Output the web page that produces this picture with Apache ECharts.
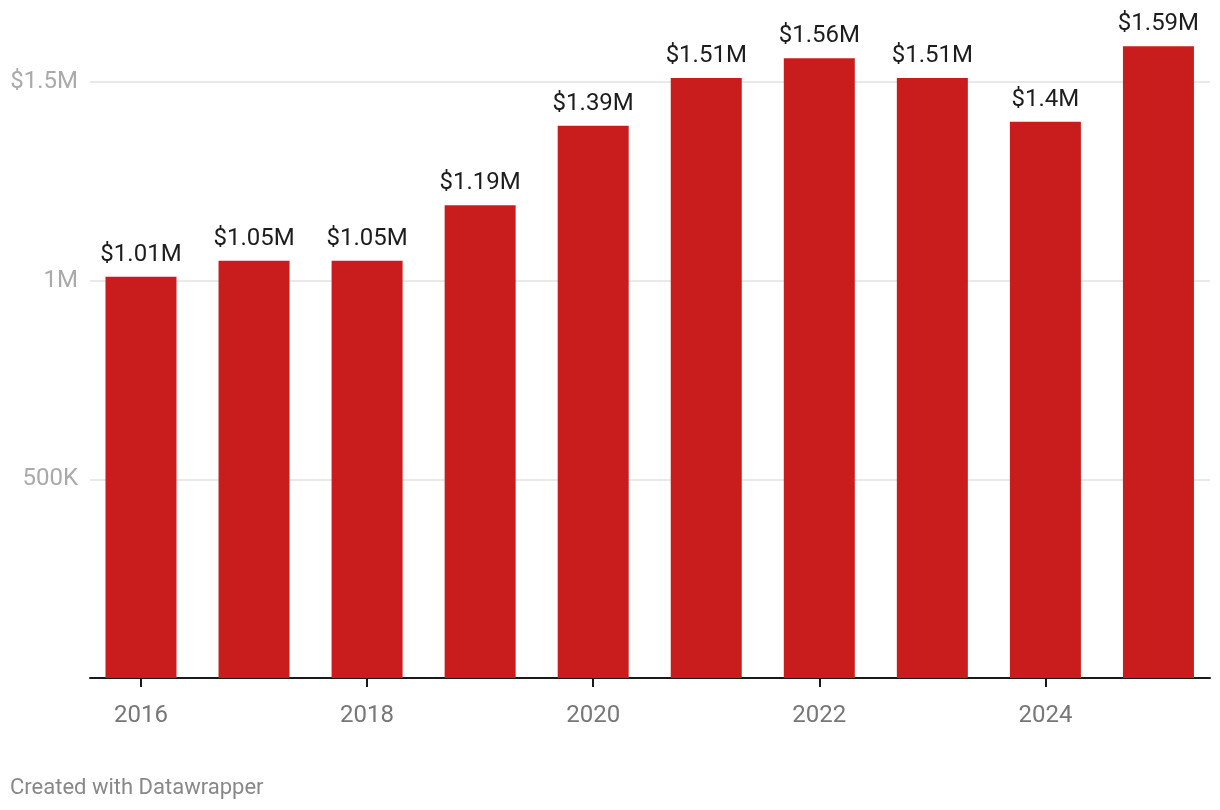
<!DOCTYPE html>
<html>
<head>
<meta charset="utf-8">
<script src="https://cdn.jsdelivr.net/npm/echarts@6/dist/echarts.min.js"></script>
<style>
html,body{margin:0;padding:0;background:#fff;}
#chart{width:1220px;height:810px;}
</style>
</head>
<body>
<div id="chart"></div>
<script>
const years = [2016, 2017, 2018, 2019, 2020, 2021, 2022, 2023, 2024, 2025];
const values = [1010000, 1050000, 1050000, 1190000, 1390000, 1510000, 1560000, 1510000, 1400000, 1590000];
const xTickYears = [2016, 2018, 2020, 2022, 2024];
const yTicks = [0, 500000, 1000000, 1500000];
const yTickLabels = ['', '500K', '1M', '$1.5M'];

function fmtMoney(v) {
  return '$' + parseFloat((v / 1e6).toFixed(2)) + 'M';
}

const chart = echarts.init(document.getElementById('chart'), null, {renderer: 'canvas'});
chart.setOption({
  animation: false,
  backgroundColor: '#ffffff',
  textStyle: {fontFamily: 'Roboto'},
  grid: {left: 90, right: 10, top: 82, bottom: 132},
  xAxis: {
    type: 'value',
    min: 2015.549,
    max: 2025.456,
    splitLine: {show: false},
    axisLine: {show: true, onZero: false, lineStyle: {color: '#1a1a1a', width: 2}},
    axisTick: {show: true, customValues: xTickYears, length: 9, lineStyle: {color: '#1a1a1a', width: 2}},
    axisLabel: {
      customValues: xTickYears,
      formatter: v => String(v),
      color: '#777777',
      fontSize: 24,
      margin: 26,
      fontFamily: 'Roboto'
    }
  },
  yAxis: {
    type: 'value',
    min: 0,
    max: 1500000,
    interval: 500000,
    axisLine: {show: false},
    axisTick: {show: false},
    splitLine: {show: true, lineStyle: {color: '#e2e2e2', width: 1.5}},
    axisLabel: {
      color: '#aaaaaa',
      fontSize: 24,
      margin: 12,
      fontFamily: 'Roboto',
      formatter: v => {
        const i = yTicks.indexOf(v);
        return i >= 0 ? yTickLabels[i] : '';
      }
    }
  },
  series: [{
    type: 'bar',
    data: years.map((y, i) => [y, values[i]]),
    barWidth: 71,
    clip: false,
    itemStyle: {color: '#c91d1d'},
    label: {
      show: true,
      position: 'top',
      distance: 10,
      color: '#1d1d1d',
      fontSize: 24,
      fontFamily: 'Roboto',
      formatter: p => fmtMoney(p.value[1])
    }
  }],
  graphic: [{
    type: 'text',
    left: 10,
    top: 777,
    style: {text: 'Created with Datawrapper', fill: '#888888', fontSize: 22, fontFamily: 'Roboto'}
  }]
});
</script>
</body>
</html>
